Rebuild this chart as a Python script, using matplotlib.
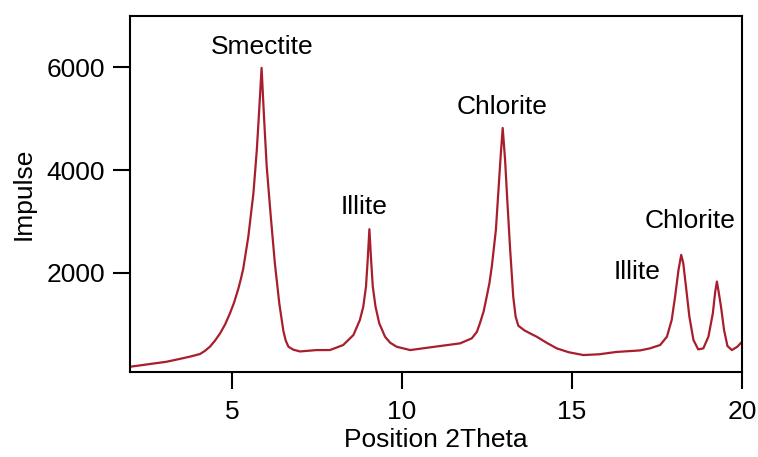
import matplotlib
matplotlib.use("Agg")
import matplotlib.pyplot as plt

two_theta = [2.0, 3.08, 3.57, 3.8, 4.06, 4.2, 4.35, 4.5, 4.65, 4.8, 4.94, 5.06, 5.19, 5.26, 5.33,
             5.48, 5.63, 5.73, 5.80, 5.87,
             5.94, 6.02, 6.14, 6.26, 6.39, 6.51, 6.58, 6.66, 6.8, 7.0, 7.49, 7.88, 8.27, 8.57,
             8.76, 8.86, 8.94, 8.99, 9.04, 9.09, 9.14, 9.22, 9.33, 9.5, 9.65, 9.84, 10.24,
             11.0, 11.71, 12.05, 12.2, 12.29, 12.4, 12.49, 12.57, 12.64, 12.76, 12.83, 12.90,
             12.96, 13.03, 13.10, 13.18, 13.27, 13.34, 13.42, 13.6, 13.8, 13.96, 14.25, 14.55,
             14.9, 15.33, 15.8, 16.3, 17.0, 17.29, 17.59, 17.79, 17.93,
             18.03, 18.13, 18.21, 18.27, 18.35, 18.45, 18.57, 18.71, 18.86, 19.01, 19.14,
             19.21, 19.26, 19.31, 19.38, 19.47, 19.57, 19.70, 19.86, 20.0]
impulse = [172, 270, 340, 375, 420, 480, 562, 680, 823, 1000, 1213, 1420, 1700, 1880, 2080,
           2707, 3553, 4397, 5177, 5990,
           5047, 4072, 3097, 2188, 1408, 870, 680, 562, 505, 470, 497, 497, 595, 790,
           1082, 1342, 1732, 2252, 2850, 2252, 1732, 1342, 1018, 757, 640, 562, 497,
           565, 628, 725, 850, 1018, 1250, 1537, 1800, 2122, 2837, 3553, 4267,
           4820, 4202, 3358, 2447, 1537, 1150, 970, 880, 810, 757, 640, 530,
           455, 400, 415, 460, 490, 530, 595, 757, 1082,
           1537, 2057, 2350, 2188, 1732, 1147, 692, 510, 530, 757, 1213,
           1634, 1830, 1634, 1342, 887, 575, 497, 562, 660]

label_text = ["Smectite", "Illite", "Chlorite", "Illite", "Chlorite"]
label_x = [5.88, 8.88, 12.94, 16.9, 18.47]
label_y = [6400, 3290, 5220, 2020, 3010]

plt.rcParams['font.family'] = ['Liberation Sans', 'DejaVu Sans']

fig = plt.figure(figsize=(7.58, 4.57), dpi=100)
ax = fig.add_axes([0.1715, 0.186, 0.8075, 0.779])
ax.plot(two_theta, impulse, color='#a81e2c', lw=1.6, solid_joinstyle='round')
for t, x, y in zip(label_text, label_x, label_y):
    ax.text(x, y, t, ha='center', va='center', fontsize=19)

ax.set_xlim(2, 20)
ax.set_ylim(70, 7000)
ax.set_xticks([5, 10, 15, 20])
ax.set_yticks([2000, 4000, 6000])
ax.tick_params(axis='both', direction='out', length=12, width=1.5, labelsize=19,
               top=False, right=False)
ax.tick_params(axis='y', pad=6)
ax.tick_params(axis='x', pad=8)
for s in ax.spines.values():
    s.set_linewidth(1.5)
ax.set_xlabel("Position 2Theta", fontsize=19, labelpad=3)
ax.set_ylabel("Impulse", fontsize=19, labelpad=8)
fig.savefig("out.png", dpi=100)
